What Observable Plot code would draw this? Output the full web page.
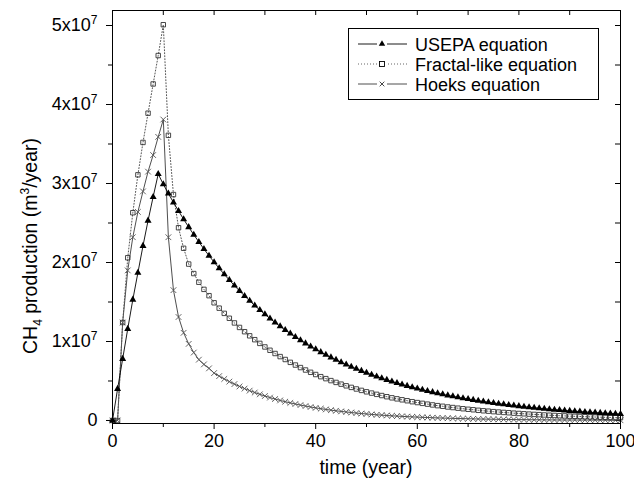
<!DOCTYPE html>
<html>
<head>
<meta charset="utf-8">
<script src="https://cdn.jsdelivr.net/npm/d3@7"></script>
<script src="https://cdn.jsdelivr.net/npm/@observablehq/plot@0.6"></script>
<style>
  html, body { margin: 0; padding: 0; background: #fff; }
  #chart { width: 634px; height: 483px; }
</style>
</head>
<body>
<div id="chart"></div>
<script>
// time (year) 0..100, one value per year; values in units of 10^7 m3/year
const years = d3.range(0, 101);

const usepa = [
  0, 0.40, 0.78, 1.16, 1.53, 1.87, 2.21, 2.53, 2.83, 3.12,
  2.99, 2.873, 2.760, 2.652, 2.548, 2.448, 2.352, 2.260, 2.171, 2.086,
  2.004, 1.926, 1.850, 1.778, 1.708, 1.641, 1.577, 1.515, 1.455, 1.398,
  1.344, 1.291, 1.240, 1.192, 1.145, 1.100, 1.057, 1.016, 0.976, 0.937,
  0.901, 0.865, 0.831, 0.799, 0.768, 0.737, 0.708, 0.681, 0.654, 0.628,
  0.604, 0.580, 0.557, 0.535, 0.514, 0.494, 0.475, 0.456, 0.438, 0.421,
  0.405, 0.389, 0.373, 0.359, 0.345, 0.331, 0.318, 0.306, 0.294, 0.282,
  0.271, 0.261, 0.250, 0.241, 0.231, 0.222, 0.213, 0.205, 0.197, 0.189,
  0.182, 0.175, 0.168, 0.161, 0.155, 0.149, 0.143, 0.137, 0.132, 0.127,
  0.122, 0.117, 0.113, 0.108, 0.104, 0.100, 0.096, 0.092, 0.089, 0.085,
  0.082
];

const fractal = [
  0, 0, 1.24, 2.06, 2.63, 3.11, 3.52, 3.89, 4.26, 4.62,
  5.01, 3.61, 2.86, 2.44, 2.18, 1.98, 1.86, 1.75, 1.66, 1.58,
  1.490, 1.422, 1.356, 1.294, 1.235, 1.178, 1.124, 1.072, 1.023, 0.976,
  0.931, 0.889, 0.848, 0.809, 0.772, 0.736, 0.702, 0.670, 0.639, 0.610,
  0.582, 0.555, 0.530, 0.505, 0.482, 0.460, 0.439, 0.419, 0.399, 0.381,
  0.363, 0.347, 0.331, 0.316, 0.301, 0.287, 0.274, 0.262, 0.250, 0.238,
  0.227, 0.217, 0.207, 0.197, 0.188, 0.180, 0.171, 0.164, 0.156, 0.149,
  0.142, 0.136, 0.129, 0.123, 0.118, 0.112, 0.107, 0.102, 0.098, 0.093,
  0.089, 0.085, 0.081, 0.077, 0.074, 0.070, 0.067, 0.064, 0.061, 0.058,
  0.055, 0.053, 0.051, 0.048, 0.046, 0.044, 0.042, 0.040, 0.038, 0.036,
  0.035
];

const hoeks = [
  0, 0, 1.24, 1.90, 2.32, 2.64, 2.90, 3.15, 3.36, 3.59,
  3.81, 2.32, 1.65, 1.31, 1.11, 0.97, 0.86, 0.77, 0.71, 0.66,
  0.600, 0.562, 0.526, 0.492, 0.461, 0.431, 0.404, 0.378, 0.354, 0.331,
  0.310, 0.290, 0.272, 0.254, 0.238, 0.223, 0.209, 0.195, 0.183, 0.171,
  0.160, 0.150, 0.140, 0.131, 0.123, 0.115, 0.108, 0.101, 0.094, 0.088,
  0.083, 0.077, 0.072, 0.068, 0.063, 0.059, 0.056, 0.052, 0.049, 0.046,
  0.043, 0.040, 0.038, 0.035, 0.033, 0.031, 0.029, 0.027, 0.025, 0.024,
  0.022, 0.021, 0.019, 0.018, 0.017, 0.016, 0.015, 0.014, 0.013, 0.012,
  0.011, 0.011, 0.010, 0.009, 0.009, 0.008, 0.008, 0.007, 0.007, 0.006,
  0.006, 0.006, 0.005, 0.005, 0.005, 0.004, 0.004, 0.004, 0.003, 0.003,
  0.003
];

const seriesNames = ["USEPA equation", "Fractal-like equation", "Hoeks equation"];
const xMajorTicks = [0, 20, 40, 60, 80, 100];
const xMinorTicks = [10, 30, 50, 70, 90];
const yMajorTicks = [0, 1e7, 2e7, 3e7, 4e7, 5e7];
const yMinorTicks = [0.5e7, 1.5e7, 2.5e7, 3.5e7, 4.5e7];
const xTitle = "time (year)";

const toRows = (vals) => vals.map((v, i) => ({t: years[i], v: v * 1e7}));
const usepaRows = toRows(usepa);
const fractalRows = toRows(fractal);
const hoeksRows = toRows(hoeks);

const W = 634, H = 483;
const mL = 112, mR = 14, mT = 10, mB = 60;
const plotW = W - mL - mR, plotH = H - mT - mB;
const FONT = "'Liberation Sans', Arial, Helvetica, sans-serif";

const svg = Plot.plot({
  width: W, height: H,
  marginLeft: mL, marginRight: mR, marginTop: mT, marginBottom: mB,
  x: {domain: [0, 100]},
  y: {domain: [-0.038e7, 5.19e7]},
  style: {fontFamily: FONT, fontSize: "18px", color: "#000", background: "#fff", overflow: "visible"},
  marks: [
    Plot.axisX(xMajorTicks, {tickSize: 6, tickPadding: 5, fontSize: 18, label: null, tickFormat: d => String(d)}),
    Plot.axisX(xMinorTicks, {tickSize: 4, label: null, tickFormat: () => ""}),
    Plot.axisY(yMajorTicks, {tickSize: 6, tickPadding: 9, fontSize: 18, label: null,
      tickFormat: d => d === 0 ? "0" : `${Math.round(d / 1e7)}x10^7`}),
    Plot.axisY(yMinorTicks, {tickSize: 4, label: null, tickFormat: () => ""}),
    Plot.tickX(xMajorTicks.concat(xMinorTicks), {x: d => d, insetBottom: plotH - 5, stroke: "#000"}),
    Plot.tickY(yMajorTicks.concat(yMinorTicks), {y: d => d, insetLeft: plotW - 5, stroke: "#000"}),
    Plot.line(hoeksRows, {x: "t", y: "v", stroke: "#3a3a3a", strokeWidth: 0.9}),
    Plot.line(fractalRows, {x: "t", y: "v", stroke: "#555", strokeWidth: 1, strokeDasharray: "1,2"}),
    Plot.line(usepaRows, {x: "t", y: "v", stroke: "#000", strokeWidth: 0.9}),
    Plot.dot(hoeksRows, {x: "t", y: "v", symbol: "times", r: 2.7, stroke: "#555", strokeWidth: 0.9}),
    Plot.dot(fractalRows, {x: "t", y: "v", symbol: "square", r: 2.5, stroke: "#333", fill: "none", strokeWidth: 0.9}),
    Plot.dot(usepaRows, {x: "t", y: "v", symbol: "triangle", r: 2.6, fill: "#000", stroke: "none"}),
    Plot.frame({stroke: "#000", strokeWidth: 1})
  ]
});
document.getElementById("chart").appendChild(svg);

const root = d3.select(svg);

// superscript exponents in y tick labels
root.selectAll('g[aria-label="y-axis tick label"] text').each(function() {
  const el = d3.select(this);
  const s = el.text();
  if (s.includes("^")) {
    const [base, exp] = s.split("^");
    el.text(base);
    el.append("tspan").attr("dy", "-7").attr("font-size", "12px").text(exp);
  }
});

// y-axis title
const yt = root.append("text")
  .attr("transform", `translate(37, 246) rotate(-90)`)
  .attr("text-anchor", "middle")
  .attr("font-family", FONT).attr("font-size", "19.5px").attr("fill", "#000");
yt.append("tspan").text("CH");
yt.append("tspan").attr("dy", "5").attr("font-size", "12px").text("4");
yt.append("tspan").attr("dy", "-5").text(" production (m");
yt.append("tspan").attr("dy", "-8").attr("font-size", "12px").text("3");
yt.append("tspan").attr("dy", "8").text("/year)");

// x-axis title
root.append("text")
  .attr("x", mL + plotW / 2).attr("y", 474)
  .attr("text-anchor", "middle")
  .attr("font-family", FONT).attr("font-size", "19.5px").attr("fill", "#000")
  .text(xTitle);

// legend
const lg = root.append("g").attr("font-family", FONT).attr("font-size", "18px").attr("text-anchor", "start");
lg.append("rect").attr("x", 348.5).attr("y", 28.5).attr("width", 250).attr("height", 71)
  .attr("fill", "#fff").attr("stroke", "#000").attr("stroke-width", 1);
const rowsY = [44, 64, 84];
const lineStyles = [
  {stroke: "#000", dash: null},
  {stroke: "#555", dash: "1,2"},
  {stroke: "#3a3a3a", dash: null}
];
seriesNames.forEach((name, i) => {
  const y = rowsY[i];
  lg.append("line").attr("x1", 358).attr("x2", 407).attr("y1", y).attr("y2", y)
    .attr("stroke", lineStyles[i].stroke).attr("stroke-width", 0.9)
    .attr("stroke-dasharray", lineStyles[i].dash);
  const cx = 382;
  lg.append("rect").attr("x", cx - 5).attr("y", y - 5).attr("width", 10).attr("height", 10).attr("fill", "#fff");
  if (i === 0) {
    lg.append("path").attr("d", d3.symbol(d3.symbolTriangle, 18)()).attr("transform", `translate(${cx},${y})`)
      .attr("fill", "#000");
  } else if (i === 1) {
    lg.append("rect").attr("x", cx - 2.5).attr("y", y - 2.5).attr("width", 5).attr("height", 5)
      .attr("fill", "#fff").attr("stroke", "#000").attr("stroke-width", 0.9);
  } else {
    lg.append("path").attr("d", d3.symbol(d3.symbolTimes, 16)()).attr("transform", `translate(${cx},${y})`)
      .attr("stroke", "#333").attr("fill", "none").attr("stroke-width", 0.9);
  }
  lg.append("text").attr("x", 415).attr("y", y + 6.5).attr("fill", "#000").text(name);
});
</script>
</body>
</html>
